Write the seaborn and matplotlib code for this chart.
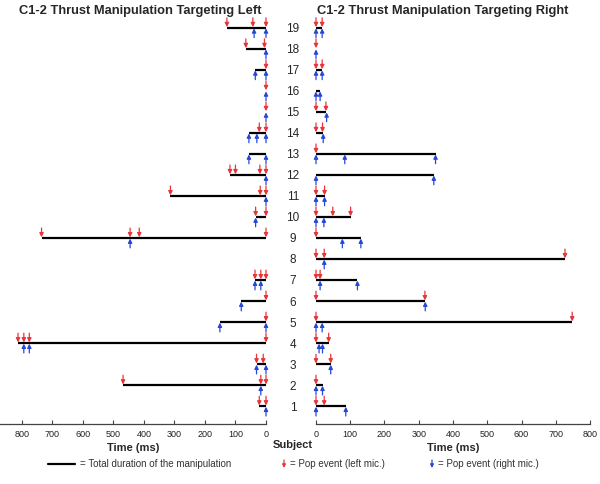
import numpy as np
import pandas as pd
import matplotlib
matplotlib.use("Agg")
import matplotlib.pyplot as plt
from matplotlib.lines import Line2D
import seaborn as sns

# ---- data (ms) ----
subjects = list(range(1, 20))

left_duration = [22, 468, 31, 812, 151, 81, 36, np.nan, 735, 34,
                 313, 118, 56, 56, 0, 0, 35, 66, 128]
left_red = [[22, 0], [468, 17, 0], [31, 9], [812, 793, 775, 0], [0], [0],
            [36, 17, 0], [], [735, 445, 415, 0], [34, 0], [313, 19, 0],
            [118, 100, 20, 0], [], [22, 0], [0], [0], [0], [66, 5], [128, 43, 0]]
left_blue = [[0], [17], [31, 0], [793, 775], [151, 0], [81], [36, 17], [],
             [445], [34], [0], [0], [56, 0], [56, 30, 0], [0], [0], [35, 0],
             [0], [39, 0]]

right_duration = [87, 19, 43, 37, 748, 319, 121, 727, 131, 101,
                  25, 344, 349, 19, 29, 12, 18, 0, 18]
right_red = [[0, 24], [0], [0, 43], [0, 37], [0, 748], [0, 318], [0, 12],
             [0, 24, 727], [0], [0, 49, 101], [0, 25], [], [0], [0, 19],
             [0, 29], [], [0, 18], [0], [0, 18]]
right_blue = [[0, 87], [0, 19], [43], [9, 19], [0, 18], [319], [12, 121],
              [24], [77, 131], [0, 23], [0, 25], [0, 344], [0, 84, 349],
              [21], [31], [0, 12], [0, 18], [0], [0, 18]]

RED = "#e8343a"
BLUE = "#2748d6"
GREY = "#444444"

sns.set_theme(style="white")
plt.rcParams['font.family'] = ['Liberation Sans', 'DejaVu Sans']

W, H = 600, 484
fig = plt.figure(figsize=(6, 4.84), dpi=100)

ylo, yhi = 0.15, 19.7
ax_bottom = 1 - 424 / H
ax_height = (424 - 13) / H
ax_l = fig.add_axes([0 / W, ax_bottom, 266 / W, ax_height])
ax_r = fig.add_axes([316 / W, ax_bottom, 274 / W, ax_height])


def draw_panel(ax, durations, reds, blues):
    df = pd.DataFrame({"subject": subjects, "duration": durations}).dropna()
    ax.hlines(df["subject"], 0, df["duration"], color="black", lw=1.6, zorder=2)
    arrow = dict(arrowstyle="-|>", lw=0.9, mutation_scale=6, shrinkA=0, shrinkB=0)
    for s, r_ev, b_ev in zip(subjects, reds, blues):
        for t in r_ev:
            ax.annotate("", xy=(t, s + 0.03), xytext=(t, s + 0.47),
                        arrowprops=dict(arrow, color=RED), zorder=3)
        for t in b_ev:
            ax.annotate("", xy=(t, s - 0.03), xytext=(t, s - 0.47),
                        arrowprops=dict(arrow, color=BLUE), zorder=3)
    ax.set_ylim(ylo, yhi)
    sns.despine(ax=ax, left=True)
    ax.spines["bottom"].set_color(GREY)
    ax.spines["bottom"].set_linewidth(0.9)
    ax.tick_params(axis="x", direction="in", length=3, width=0.8, colors=GREY,
                   labelsize=6.5, labelcolor="#222222", pad=4, bottom=True)
    ax.set_xticks(np.arange(0, 801, 100))
    ax.set_xlabel("Time (ms)", fontsize=8, fontweight="bold", labelpad=3)


draw_panel(ax_l, left_duration, left_red, left_blue)
ax_l.set_xlim(871, 0)
ax_l.set_yticks(subjects)
ax_l.yaxis.set_ticks_position("right")
ax_l.tick_params(axis="y", length=0, pad=19.5, labelsize=8.5)
for lab in ax_l.get_yticklabels():
    lab.set_horizontalalignment("center")

draw_panel(ax_r, right_duration, right_red, right_blue)
ax_r.set_xlim(0, 800)
ax_r.set_yticks([])

fig.text(140 / W, 1 - 11 / H, "C1-2 Thrust Manipulation Targeting Left",
         ha="center", va="center", fontsize=9.3, fontweight="bold")
fig.text(443 / W, 1 - 11 / H, "C1-2 Thrust Manipulation Targeting Right",
         ha="center", va="center", fontsize=9.3, fontweight="bold")
fig.text(293 / W, 1 - 445 / H, "Subject", ha="center", va="center",
         fontsize=8, fontweight="bold")

# legend row at the bottom
ly = 1 - 464 / H
fig.add_artist(Line2D([48 / W, 75 / W], [ly, ly], color="black", lw=1.6,
                      transform=fig.transFigure))
fig.text(80 / W, ly, "= Total duration of the manipulation", ha="left",
         va="center", fontsize=7, color="#333333")
for x0, col, txt in [(284, RED, "= Pop event (left mic.)"),
                     (432, BLUE, "= Pop event (right mic.)")]:
    ax_l.annotate("", xy=(x0 / W, ly - 4 / H), xytext=(x0 / W, ly + 4 / H),
                  xycoords="figure fraction", textcoords="figure fraction",
                  arrowprops=dict(arrowstyle="-|>", lw=0.9, mutation_scale=5,
                                  shrinkA=0, shrinkB=0, color=col),
                  annotation_clip=False)
    fig.text((x0 + 6) / W, ly, txt, ha="left", va="center", fontsize=7,
             color="#333333")

fig.savefig("out.png", dpi=100)
